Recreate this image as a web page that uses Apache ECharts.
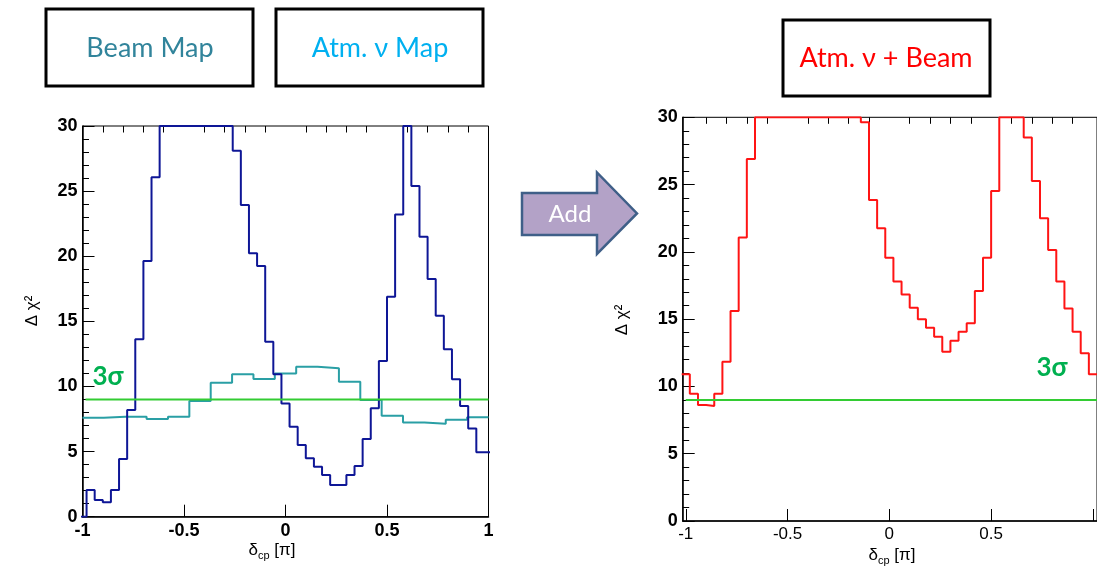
<!DOCTYPE html>
<html><head><meta charset="utf-8">
<script src="https://cdn.jsdelivr.net/npm/echarts@6/dist/echarts.min.js"></script>
<style>html,body{margin:0;padding:0;background:#fff}#c{width:1097px;height:567px}</style>
</head><body><div id="c"></div>
<script>
// ---------- data ----------
const histBinWidth = 0.04;            // beam / combined scans: bins centred on -1, -0.96, ..., 1
const histFirstCentre = -1;
const atmBinCount = 19;               // atmospheric map: 19 bins over [-1, 1]
const atmRange = [-1, 1];
// values above 30 are off-scale in the picture (estimated)
const beamMapValues = [0, 2.05, 1.28, 1.10, 2.05, 4.43, 8.19, 13.62, 19.63, 26.06,
  40, 40, 40, 40, 40, 40, 40, 40, 40,
  28.10, 23.93, 20.22, 19.25, 13.44, 10.93,
  8.70, 6.91, 5.50, 4.48, 3.84, 3.20, 2.43, 2.43, 3.20, 3.89, 5.96, 8.32, 11.95, 16.89, 23.21,
  40, 25.39, 21.50, 18.25, 15.43, 12.85, 10.55, 8.50, 6.78, 4.94, 4.94];
const atmMapValues = [7.60, 7.68, 7.68, 7.50, 7.68, 8.88, 10.29, 10.93, 10.57, 11.00,
  11.52, 11.39, 10.37, 8.96, 7.76, 7.24, 7.14, 7.45, 7.63];
const combinedValues = [10.90, 9.46, 8.62, 8.55, 9.46, 11.84, 15.61, 21.06, 26.90,
  40, 40, 40, 40, 40, 40, 40, 40, 40, 40, 39, 35, 31,
  29.63, 23.85, 21.75, 19.57, 17.79, 16.84, 15.85, 14.99, 14.37, 13.70, 12.58, 13.40, 14.07,
  14.69, 17.09, 19.57, 24.52, 40, 40, 40, 28.49, 25.27, 22.49, 20.14, 17.79, 15.80, 14.07, 12.46, 10.90];
const threeSigma = 9;
const yMax = 30;
const xMajorTicks = [-1, -0.5, 0, 0.5, 1];
const xMinorTicks = [-0.9, -0.8, -0.7, -0.6, -0.4, -0.3, -0.2, -0.1, 0.1, 0.2, 0.3, 0.4, 0.6, 0.7, 0.8, 0.9];
const rightXLabels = [-1, -0.5, 0, 0.5];
const titles = { beam: 'Beam Map', atm: 'Atm. ν Map', comb: 'Atm. ν + Beam', add: 'Add', sigma: '3σ' };

// ---------- build step histograms ----------
function edgesFromCentres(n, first, w) {
  const e = [];
  for (let i = 0; i <= n; i++) e.push(+(first - w / 2 + i * w).toFixed(4));
  return e;
}
function edgesFromRange(n, r) {
  const e = [];
  for (let i = 0; i <= n; i++) e.push(r[0] + (r[1] - r[0]) * i / n);
  return e;
}
// like ROOT, bins above the frame are drawn along the top of the frame
function histPoints(edges, vals, fromZero) {
  const p = [];
  const c = v => Math.min(v, yMax);
  if (fromZero) p.push([edges[0], 0]);
  for (let i = 0; i < vals.length; i++) p.push([edges[i], c(vals[i])]);
  p.push([edges[vals.length], c(vals[vals.length - 1])]);
  return p;
}
const beamEdges = edgesFromCentres(beamMapValues.length, histFirstCentre, histBinWidth);
const combEdges = edgesFromCentres(combinedValues.length, histFirstCentre, histBinWidth);
const atmEdges = edgesFromRange(atmBinCount, atmRange);

const chart = echarts.init(document.getElementById('c'), null, { renderer: 'canvas' });
const tickFont = { fontFamily: 'Liberation Sans', fontWeight: 'bold', fontSize: 18, color: '#000' };

function xMajor(grid, min, max, labels, bold) {
  return {
    gridIndex: grid, type: 'value', min: min, max: max,
    axisLine: { show: true, onZero: false, lineStyle: { color: '#000', width: 1.5 } },
    axisTick: { show: true, inside: true, length: 12, customValues: xMajorTicks, lineStyle: { color: '#000', width: 1 } },
    axisLabel: { show: true, customValues: labels, formatter: v => String(v), margin: 5,
      fontFamily: 'Liberation Sans', fontWeight: bold ? 'bold' : 'normal', fontSize: bold ? 18 : 17, color: '#000' },
    splitLine: { show: false }
  };
}
function xMinor(grid, min, max) {
  return {
    gridIndex: grid, type: 'value', min: min, max: max,
    axisLine: { show: false, onZero: false },
    axisTick: { show: true, inside: true, length: 6.5, customValues: xMinorTicks, lineStyle: { color: '#000', width: 1 } },
    axisLabel: { show: false }, splitLine: { show: false }
  };
}
function yAx(grid) {
  return {
    gridIndex: grid, type: 'value', min: 0, max: yMax, interval: 5,
    axisLine: { show: true, onZero: false, lineStyle: { color: '#000', width: 1.5 } },
    axisTick: { show: true, inside: true, length: 12, lineStyle: { color: '#000', width: 1 } },
    minorTick: { show: true, splitNumber: 5, length: 6.5, lineStyle: { color: '#000', width: 1 } },
    axisLabel: Object.assign({ margin: 5 }, tickFont),
    splitLine: { show: false }, minorSplitLine: { show: false }
  };
}
function stepSeries(xi, yi, data, color, width, z) {
  return { type: 'line', xAxisIndex: xi, yAxisIndex: yi, data: data, step: 'end', showSymbol: false,
    symbol: 'none', clip: true, z: z || 2, silent: true, animation: false,
    lineStyle: { color: color, width: width || 2 } };
}
const centred = { align: 'center', verticalAlign: 'middle', textAlign: 'center', textVerticalAlign: 'middle' };
function txt(x, y, text, fill, font, extra) {
  return Object.assign({ type: 'text', x: x, y: y, z: 10, style: Object.assign({ text: text, fill: fill, font: font }, centred) }, extra || {});
}
const richSub = {
  d: { fontFamily: 'Liberation Sans', fontSize: 17, fill: '#000', color: '#000', lineHeight: 22, verticalAlign: 'middle' },
  s: { fontFamily: 'Liberation Sans', fontSize: 11, fill: '#000', color: '#000', lineHeight: 22, verticalAlign: 'bottom' }
};

const option = {
  animation: false,
  backgroundColor: '#fff',
  grid: [
    { left: 82.5, top: 126, width: 406, height: 390.7, show: true, borderColor: '#000', borderWidth: 1, backgroundColor: 'transparent' },
    { left: 682.7, top: 117.3, width: 421, height: 403.7, show: true, borderColor: '#000', borderWidth: 1, backgroundColor: 'transparent' }
  ],
  xAxis: [
    xMajor(0, -1, 1, xMajorTicks, true),
    xMinor(0, -1, 1),
    xMajor(1, -1.015, 1.02, rightXLabels, false),
    xMinor(1, -1.015, 1.02)
  ],
  yAxis: [yAx(0), yAx(1)],
  series: [
    stepSeries(0, 0, histPoints(atmEdges, atmMapValues, false), '#2a9fa5', 2, 3),
    stepSeries(0, 0, histPoints(beamEdges, beamMapValues, true), '#0e1696', 2, 4),
    { type: 'line', xAxisIndex: 0, yAxisIndex: 0, data: [[-0.985, threeSigma], [1, threeSigma]], showSymbol: false, symbol: 'none',
      lineStyle: { color: '#33cc33', width: 2 }, z: 5, silent: true },
    stepSeries(2, 1, histPoints(combEdges, combinedValues, false), '#ff1414', 2, 4),
    { type: 'line', xAxisIndex: 2, yAxisIndex: 1, data: [[-1, threeSigma], [1.02, threeSigma]], showSymbol: false, symbol: 'none',
      lineStyle: { color: '#33cc33', width: 2 }, z: 5, silent: true }
  ],
  graphic: [
    { type: 'rect', shape: { x: 46, y: 9, width: 207, height: 77 }, style: { fill: '#fff', stroke: '#000', lineWidth: 3 } },
    txt(150, 48, titles.beam, '#31849b', '27px Lato'),
    { type: 'rect', shape: { x: 276, y: 9, width: 207, height: 77 }, style: { fill: '#fff', stroke: '#000', lineWidth: 3 } },
    txt(380, 48, titles.atm, '#00b0f0', '27px Lato'),
    { type: 'rect', shape: { x: 783, y: 20, width: 207, height: 76 }, style: { fill: '#fff', stroke: '#000', lineWidth: 3 } },
    txt(886, 58, titles.comb, '#ff0000', '27px Lato'),
    { type: 'polygon', shape: { points: [[522, 193], [597, 193], [597, 172.5], [637, 213.5], [597, 254], [597, 235], [522, 235]] },
      style: { fill: '#b3a2c7', stroke: '#3f5f88', lineWidth: 2.5 } },
    txt(570, 214, titles.add, '#fff', '24px Lato'),
    txt(108, 377, titles.sigma, '#00b050', 'bold 26px Lato'),
    txt(1052, 368, titles.sigma, '#00b050', 'bold 26px Lato'),
    txt(32, 311, 'Δ χ²', '#000', '17px "Liberation Sans"', { rotation: Math.PI / 2 }),
    txt(622, 320, 'Δ χ²', '#000', '17px "Liberation Sans"', { rotation: Math.PI / 2 }),
    { type: 'text', x: 272, y: 550, style: Object.assign({ text: '{d|δ}{s|cp}{d| [π]}', rich: richSub }, centred) },
    { type: 'text', x: 892, y: 555, style: Object.assign({ text: '{d|δ}{s|cp}{d| [π]}', rich: richSub }, centred) }
  ]
};
chart.setOption(option);
</script>
</body></html>
